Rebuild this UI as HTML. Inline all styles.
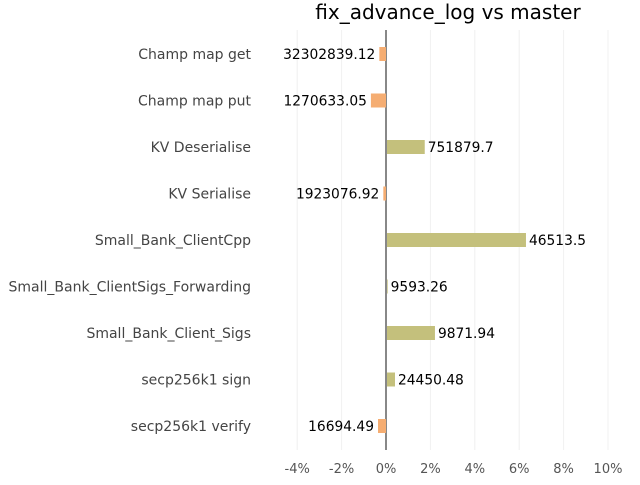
<!DOCTYPE html>
<html><head><meta charset="utf-8"><style>
body{margin:0;background:#fff;}
text{font-family:"DejaVu Sans","Liberation Sans",sans-serif;}
</style></head><body>
<svg id="chart" width="640" height="480" xmlns="http://www.w3.org/2000/svg">
<text x="448" y="19" font-size="20" text-anchor="middle" fill="#000">fix_advance_log vs master</text>
<g id="grid"></g><g id="bars"></g><g id="labels"></g><g id="ticks"></g>
</svg>
<script>
const categories=["Champ map get","Champ map put","KV Deserialise","KV Serialise","Small_Bank_ClientCpp","Small_Bank_ClientSigs_Forwarding","Small_Bank_Client_Sigs","secp256k1 sign","secp256k1 verify"];
const changes=[-0.3,-0.68,1.7,-0.12,6.26,0.03,2.16,0.36,-0.36];
const valueLabels=["32302839.12","1270633.05","751879.7","1923076.92","46513.5","9593.26","9871.94","24450.48","16694.49"];
const ticks=[-4,-2,0,2,4,6,8,10];
const x=v=>386+v*22.2;
const y=i=>54+i*46.5;
const ns="http://www.w3.org/2000/svg";
function mk(t,a,p){const e=document.createElementNS(ns,t);for(const k in a)e.setAttribute(k,a[k]);p.appendChild(e);return e;}
const grid=document.getElementById('grid'),bars=document.getElementById('bars'),labels=document.getElementById('labels'),tk=document.getElementById('ticks');
ticks.forEach(t=>{
 const l=mk('line',{x1:x(t),x2:x(t),y1:30,y2:450,stroke:t===0?'#888':'#f0f0f0','stroke-width':t===0?2:1},grid);
 
 
 const tx=mk('text',{x:x(t),y:473,'font-size':13,'text-anchor':'middle',fill:'#555'},tk);
 tx.textContent=t+'%';
 
 
});
categories.forEach((c,i)=>{
 const v=changes[i];
 const x0=v>=0?x(0)+1:x(v), w=Math.abs(x(v)-x(0));
 const r=mk('rect',{x:x0,y:y(i)-7,width:Math.max(w,0.5),height:14,fill:v>=0?'#c4c07c':'#f5ad72'},bars);
 
 
 const cl=mk('text',{x:251,y:y(i)+5,'font-size':14,'text-anchor':'end',fill:'#444'},labels);
 cl.textContent=c;
 
 
 const vl=mk('text',{x:v>=0?x(v)+4:x(v)-4,y:y(i)+5,'font-size':13.8,'text-anchor':v>=0?'start':'end',fill:'#000'},labels);
 vl.textContent=valueLabels[i];
 
 
});
</script>
</body></html>
